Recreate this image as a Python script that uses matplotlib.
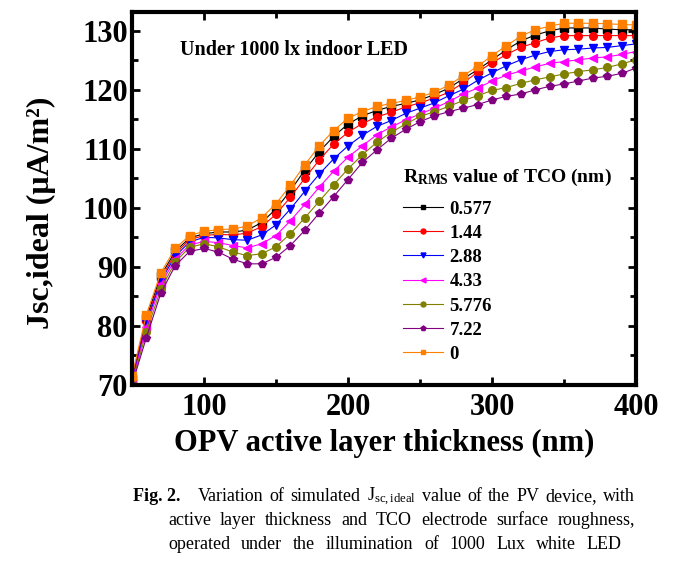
import matplotlib
matplotlib.use("Agg")
import matplotlib.pyplot as plt
from matplotlib.ticker import MultipleLocator

plt.rcParams["font.family"] = ["Liberation Serif", "DejaVu Serif"]
plt.rcParams["mathtext.fontset"] = "custom"
plt.rcParams["mathtext.rm"] = "Liberation Serif"
plt.rcParams["mathtext.bf"] = "Liberation Serif:bold"
plt.rcParams["mathtext.it"] = "Liberation Serif:italic"

# ── data ───────────────────────────────────────────────────────────────────────
thickness = list(range(50, 401, 10))
rms_labels = ["0.577", "1.44", "2.88", "4.33", "5.776", "7.22", "0"]

jsc_0577 = [71.0, 81.3, 88.5, 92.6, 94.9, 95.6, 95.9, 95.9, 96.2, 97.5, 99.8, 102.9,
            106.4, 109.5, 112.1, 114.2, 115.6, 116.5, 117.2, 117.7, 118.3, 119.2,
            120.3, 121.9, 123.4, 125.1, 126.8, 128.3, 129.3, 130.0, 130.5, 130.5,
            130.5, 130.3, 130.2, 130.2]
jsc_144 = [70.8, 80.8, 88.0, 92.2, 94.6, 95.3, 95.5, 95.4, 95.7, 96.8, 98.9, 101.8,
           105.0, 108.1, 110.8, 112.8, 114.3, 115.4, 116.2, 117.1, 117.8, 118.6,
           119.6, 121.2, 123.0, 124.6, 126.0, 127.2, 128.0, 128.8, 129.2, 129.2,
           129.2, 129.2, 129.2, 129.2]
jsc_288 = [70.5, 80.4, 87.6, 91.8, 94.2, 95.0, 94.9, 94.6, 94.5, 95.4, 97.1, 99.8,
           102.8, 105.7, 108.3, 110.5, 112.3, 113.8, 114.8, 116.0, 116.9, 117.8,
           119.0, 120.1, 121.6, 122.9, 124.1, 125.1, 125.9, 126.5, 126.8, 126.9,
           127.1, 127.2, 127.5, 127.8]
jsc_433 = [70.3, 79.8, 87.0, 91.3, 93.7, 94.3, 94.1, 93.6, 93.2, 93.9, 95.3, 97.8,
           100.6, 103.5, 106.2, 108.6, 110.5, 112.4, 113.7, 114.9, 115.9, 116.9,
           118.0, 119.3, 120.3, 121.5, 122.5, 123.2, 123.9, 124.5, 124.8, 125.1,
           125.4, 125.6, 126.0, 126.5]
jsc_5776 = [70.1, 79.0, 86.2, 90.8, 93.3, 93.9, 93.4, 92.5, 91.9, 92.2, 93.4, 95.6,
            98.3, 101.1, 103.9, 106.6, 109.0, 111.1, 112.8, 114.2, 115.5, 116.3,
            117.2, 118.2, 119.0, 119.9, 120.4, 121.1, 121.7, 122.2, 122.7, 123.1,
            123.4, 123.8, 124.4, 125.1]
jsc_722 = [70.0, 78.0, 85.5, 90.2, 92.6, 93.1, 92.5, 91.3, 90.5, 90.5, 91.6, 93.6,
           96.2, 99.1, 101.9, 104.8, 107.7, 109.8, 111.8, 113.3, 114.6, 115.6,
           116.3, 116.9, 117.5, 118.3, 118.9, 119.3, 120.0, 120.6, 121.0, 121.5,
           122.0, 122.3, 122.8, 123.7]
jsc_0 = [71.5, 81.9, 89.0, 93.1, 95.3, 96.0, 96.3, 96.4, 96.9, 98.3, 100.7, 103.8,
         107.3, 110.5, 113.1, 115.2, 116.3, 117.2, 117.7, 118.2, 118.8, 119.6,
         120.8, 122.4, 124.0, 125.8, 127.5, 129.1, 130.2, 130.8, 131.3, 131.3,
         131.3, 131.2, 131.1, 131.0]

series = [jsc_0577, jsc_144, jsc_288, jsc_433, jsc_5776, jsc_722, jsc_0]
colours = ["black", "#ff0000", "#0000ff", "#ff00ff", "#808000", "#800080", "#ff8000"]
markers = ["s", "o", "v", "<", "o", "p", "s"]

fig = plt.figure(figsize=(6.98, 5.76), dpi=100)
ax = fig.add_axes([0.1891, 0.3321, 0.7221, 0.647])

for ys, lab, c, m in zip(series, rms_labels, colours, markers):
    ax.plot(thickness, ys, color=c, marker=m, markersize=5.5, lw=0.8, label=lab)

ax.set_xlim(50, 400)
ax.set_ylim(70, 133.2)
ax.xaxis.set_major_locator(MultipleLocator(100))
ax.xaxis.set_minor_locator(MultipleLocator(50))
ax.yaxis.set_major_locator(MultipleLocator(10))
ax.yaxis.set_minor_locator(MultipleLocator(5))
ax.tick_params(which="both", direction="in", top=True, right=True, width=2.0)
ax.tick_params(which="major", length=6)
ax.tick_params(which="minor", length=4.5)
ax.tick_params(axis="x", which="major", labelsize=22, pad=6)
ax.tick_params(axis="y", which="major", labelsize=22, pad=3)
for lbl in ax.get_xticklabels() + ax.get_yticklabels():
    lbl.set_fontweight("bold")
for sp in ax.spines.values():
    sp.set_linewidth(3)

ax.set_xlabel("OPV active layer thickness (nm)", fontsize=22, fontweight="bold")
ax.set_ylabel("Jsc,ideal (\u03bcA/m\u00b2)", fontsize=23, fontweight="bold")
ax.xaxis.set_label_coords(0.5, -0.118)
ax.yaxis.set_label_coords(-0.15, 0.46)

ax.text(0.095, 0.898, "Under 1000 lx indoor LED", transform=ax.transAxes,
        fontsize=14.5, fontweight="bold", va="center", ha="left")

leg = ax.legend(loc="upper left", bbox_to_anchor=(0.52, 0.61), frameon=False,
                fontsize=13.5, markerscale=0.65, handlelength=2.1,
                handletextpad=0.35, labelspacing=0.38, borderpad=0,
                title=r"$\mathbf{R}_{\mathbf{RMS}}$ value of TCO (nm)",
                title_fontproperties={"size": 14, "weight": "bold"},
                alignment="left")
leg._legend_box.sep = 9
for t in leg.get_texts():
    t.set_fontweight("bold")

# ── caption, justified word by word ────────────────────────────────────────────
renderer = fig.canvas.get_renderer()
W, H = fig.bbox.width, fig.bbox.height


def caption_line(words, x0, x1, y, size=13):
    texts = [fig.text(0, 1 - y / H, w, fontsize=size, va="baseline") for w in words]
    widths = [t.get_window_extent(renderer).width for t in texts]
    gap = (x1 - x0 - sum(widths)) / max(len(words) - 1, 1)
    x = x0
    for t, w in zip(texts, widths):
        t.set_x(x / W)
        x += w + gap


fig.text(133 / W, 1 - 501 / H, "Fig. 2.", fontsize=13, fontweight="bold", va="baseline")
caption_line(["Variation", "of", "simulated", r"J$_{\mathrm{sc,ideal}}$", "value", "of",
              "the", "PV", "device,", "with"], 198, 635, 501)
caption_line("active layer thickness and TCO electrode surface roughness,".split(),
             168, 635, 525)
caption_line("operated under the illumination of 1000 Lux white LED".split(),
             168, 622, 549)

fig.savefig("out.png", dpi=100, facecolor="white")
